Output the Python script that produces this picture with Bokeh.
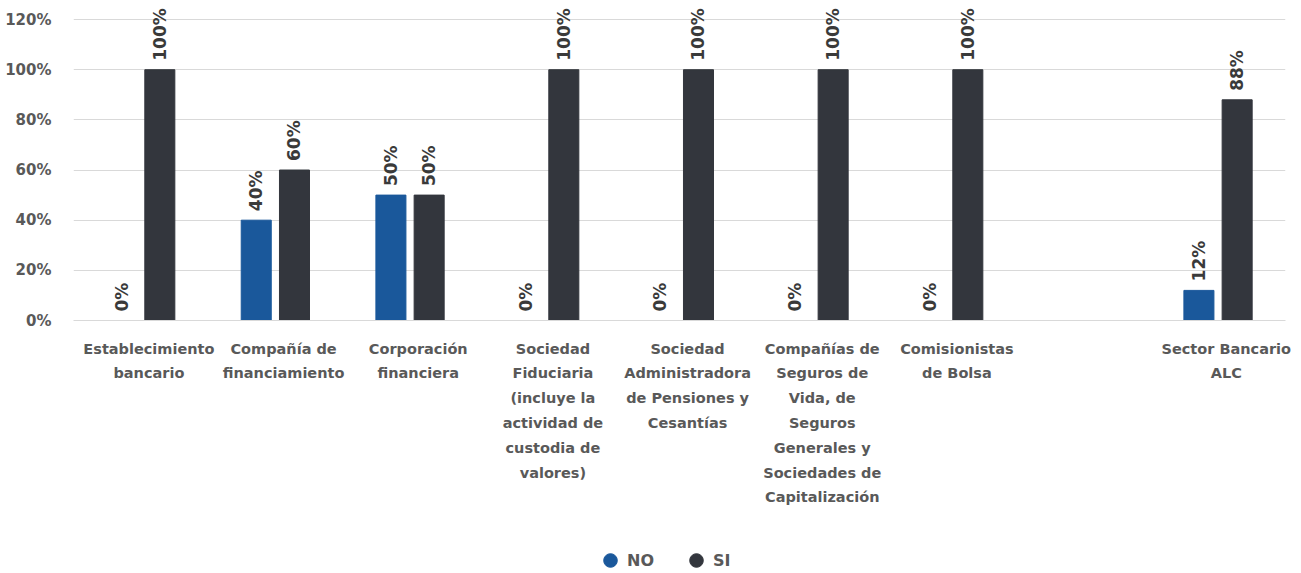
import math
from bokeh.plotting import figure
from bokeh.layouts import column
from bokeh.models import (ColumnDataSource, FixedTicker, NumeralTickFormatter,
                          Legend, LegendItem, LabelSet)
from bokeh.core.properties import value
from bokeh.embed import file_html
from bokeh.resources import INLINE

categories = [
    "Establecimiento\nbancario",
    "Compañía de\nfinanciamiento",
    "Corporación\nfinanciera",
    "Sociedad\nFiduciaria\n(incluye la\nactividad de\ncustodia de\nvalores)",
    "Sociedad\nAdministradora\nde Pensiones y\nCesantías",
    "Compañías de\nSeguros de\nVida, de\nSeguros\nGenerales y\nSociedades de\nCapitalización",
    "Comisionistas\nde Bolsa",
    "",
    "Sector Bancario\nALC",
]
no_values = [0.0, 0.40, 0.50, 0.0, 0.0, 0.0, 0.0, None, 0.12]
si_values = [1.00, 0.60, 0.50, 1.00, 1.00, 1.00, 1.00, None, 0.88]
series = ["NO", "SI"]
colors = ["#1a589b", "#33363d"]

FONT = "DejaVu Sans"
LABEL_GRAY = "#595959"
W = 1293

# frame extends a little above 120% so that rotated value labels are not clipped
p = figure(width=W, height=525, output_backend="svg", toolbar_location=None,
           x_range=(-0.5, len(categories) - 0.5), y_range=(0, 1.268),
           min_border_left=73, min_border_right=8, min_border_top=2,
           min_border_bottom=205)
p.outline_line_color = None

offsets = [-0.143, 0.141]
bar_w = 0.223
idx = [i for i in range(len(categories)) if no_values[i] is not None]
for s, vals, off, col in zip(series, [no_values, si_values], offsets, colors):
    src = ColumnDataSource(dict(
        x=[i + off for i in idx],
        top=[vals[i] for i in idx],
        lbl=[f"{round(vals[i]*100):d}%" for i in idx],
    ))
    p.vbar(x="x", top="top", width=bar_w, bottom=0, color=col, source=src)
    p.add_layout(LabelSet(x="x", y="top", text="lbl", source=src,
                          angle=math.pi / 2, text_align="left",
                          text_baseline="middle", y_offset=9,
                          text_font=value(FONT), text_font_style="bold",
                          text_font_size="17px", text_color="#3a3a3a"))

# axes
p.yaxis.ticker = FixedTicker(ticks=[0, 0.2, 0.4, 0.6, 0.8, 1.0, 1.2])
p.yaxis.formatter = NumeralTickFormatter(format="0%")
p.yaxis.axis_line_color = None
p.yaxis.major_tick_line_color = None
p.yaxis.minor_tick_line_color = None
p.yaxis.major_label_standoff = 16
p.yaxis.major_label_text_font = FONT
p.yaxis.major_label_text_font_size = "15px"
p.yaxis.major_label_text_color = LABEL_GRAY
p.yaxis.major_label_text_font_style = "bold"

ticks = [i + 0.06 for i in range(len(categories))]
p.xaxis.ticker = FixedTicker(ticks=ticks)
p.xaxis.major_label_overrides = {t: c for t, c in zip(ticks, categories)}
p.xaxis.axis_line_color = "#d9d9d9"
p.xaxis.major_tick_line_color = None
p.xaxis.minor_tick_line_color = None
p.xaxis.major_label_standoff = 14
p.xaxis.major_label_text_font = FONT
p.xaxis.major_label_text_font_size = "14.5px"
p.xaxis.major_label_text_color = LABEL_GRAY
p.xaxis.major_label_text_font_style = "bold"
p.xaxis.major_label_text_line_height = 1.55

p.xgrid.grid_line_color = None
p.ygrid.grid_line_color = "#d9d9d9"
p.ygrid.grid_line_width = 1

# legend in a thin strip below
lf = figure(width=W, height=46, output_backend="svg", toolbar_location=None,
            x_range=(0, 1), y_range=(0, 1), min_border=0,
            x_axis_location=None, y_axis_location=None)
lf.outline_line_color = None
lf.grid.visible = False
items = []
for s, col in zip(series, colors):
    r = lf.scatter(x=[-5], y=[-5], marker="circle", size=15, color=col)
    items.append(LegendItem(label=s, renderers=[r]))
legend = Legend(items=items, location=(520, -6), orientation="horizontal",
                label_text_font=FONT, label_text_font_size="16px",
                label_text_font_style="bold",
                label_text_color=LABEL_GRAY, glyph_width=34, glyph_height=34,
                label_standoff=-13, spacing=25, padding=0, margin=0,
                border_line_color=None, background_fill_alpha=0)
lf.add_layout(legend, "center")

layout = column(p, lf, spacing=0)
open("out.html", "w").write(file_html(layout, INLINE))
